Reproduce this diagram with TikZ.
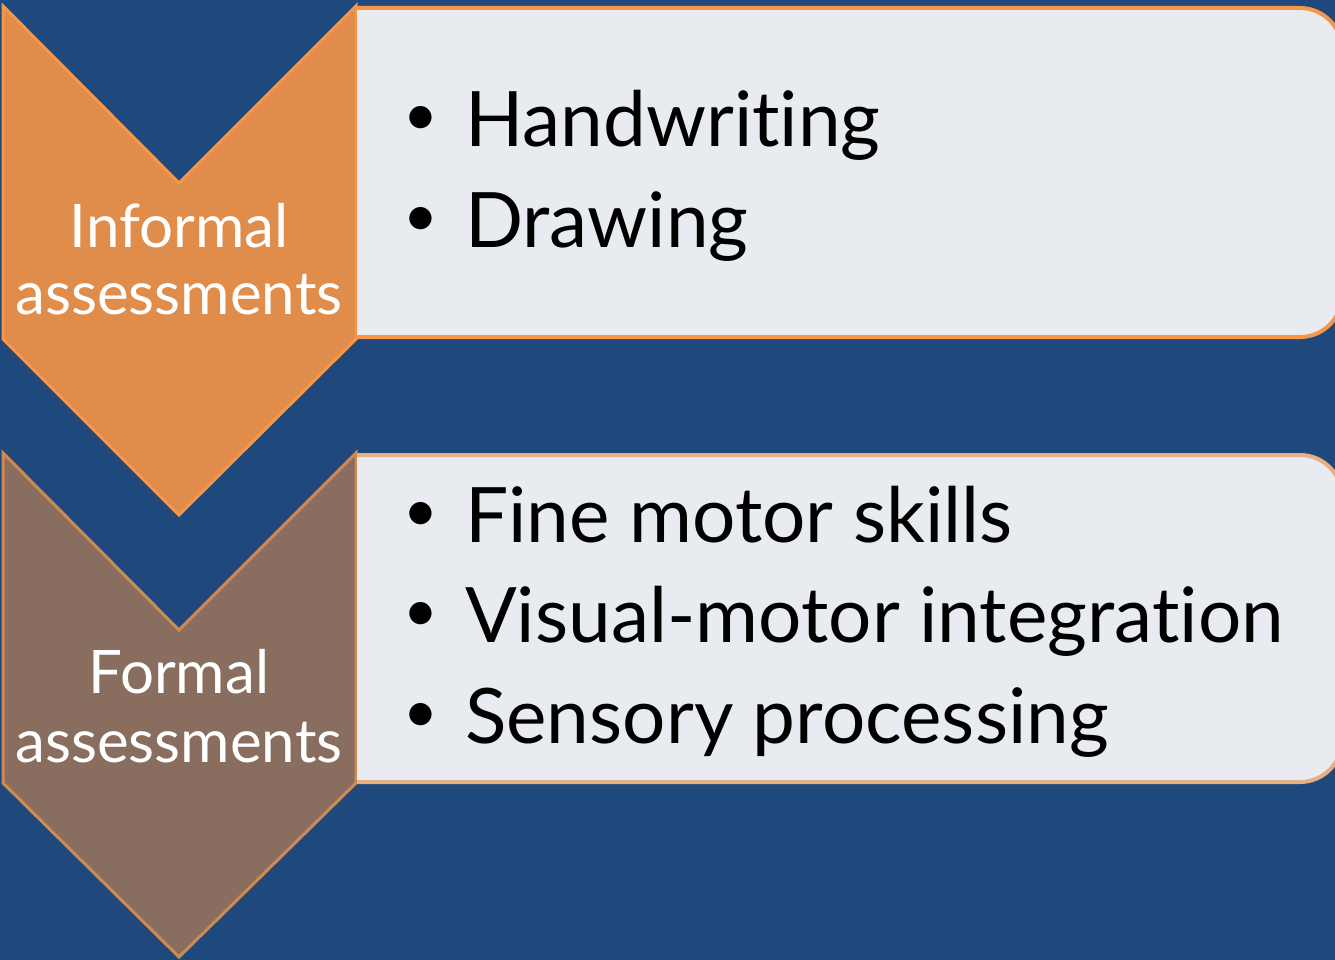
\documentclass[tikz,border=0pt]{standalone}
\usepackage{fontspec}
\newfontfamily\gillfont[Ligatures=NoCommon]{Lato}
\definecolor{bgblue}{HTML}{1F497D}
\definecolor{orangefill}{HTML}{E08C4A}
\definecolor{orangeline}{HTML}{F79646}
\definecolor{brownfill}{HTML}{896E5F}
\definecolor{brownline}{HTML}{CD8A52}
\definecolor{tanline}{HTML}{E6B084}
\definecolor{boxfill}{HTML}{E8EBF0}
\newcommand{\itembullet}{\makebox[62pt][l]{\raisebox{11pt}{\fontsize{60}{60}\selectfont •}}}

\begin{document}
\begin{tikzpicture}[x=1pt, y=-1pt,
chevron1/.style={fill=orangefill, draw=orangeline, line width=3pt, line join=miter},
chevron2/.style={fill=brownfill, draw=brownline, line width=3pt, line join=miter},
box1/.style={fill=boxfill, draw=orangeline, line width=4pt},
box2/.style={fill=boxfill, draw=tanline, line width=4pt},
label/.style={font=\gillfont\fontsize{60}{70}\selectfont, text=white, inner sep=0pt, anchor=base},
item/.style={font=\gillfont\fontsize{76.5}{100}\selectfont, text=black, inner sep=0pt, anchor=base west},
]
% background
\fill[bgblue] (0,0) rectangle (1335,960);
\useasboundingbox (0,0) rectangle (1335,960);

% top chevron and its box
\draw[chevron1] (3,6) -- (179,183) -- (356,6) -- (356,339) -- (179,515) -- (3,339) -- cycle;
\draw[box1] (357,8) [rounded corners=42pt] -- (1342,8) -- (1342,337) [sharp corners] -- (357,337);
\node[label] (inf1) at (179,247) {Informal};
\node[label] (inf2) at (179,314) {assessments};
\node[item] (hw) at (403,147) {\itembullet Handwriting};
\node[item] (dr) at (403,247) {\itembullet Drawing};

% bottom chevron and its box
\draw[chevron2] (3,453) -- (179,630) -- (356,453) -- (356,783) -- (179,957) -- (3,783) -- cycle;
\draw[box2] (357,455) [rounded corners=42pt] -- (1342,455) -- (1342,782) [sharp corners] -- (357,782);
\node[label] (for1) at (179,693) {Formal};
\node[label] (for2) at (179,762) {assessments};
\node[item] (fm) at (403,542) {\itembullet Fine motor skills};
\node[item] (vm) at (403,642) {\itembullet Visual-motor integration};
\node[item] (sp) at (403,743) {\itembullet Sensory processing};
\end{tikzpicture}
\end{document}
